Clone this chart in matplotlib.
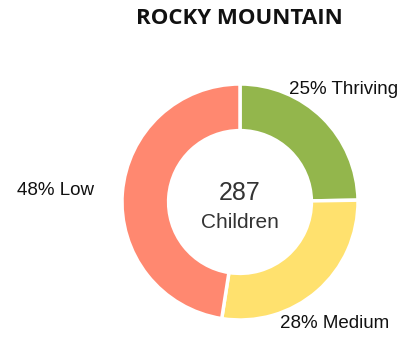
import numpy as np
import matplotlib.pyplot as plt

# share of children per wellbeing group
groups = ["Thriving", "Medium", "Low"]
shares = [25, 28, 48]
colors = ["#93B64C", "#FFE16E", "#FF8870"]
total_children = 287

fig = plt.figure(figsize=(4.04, 3.37), dpi=100)
ax = fig.add_axes([(240 - 118) / 404, (337 - 202 - 118) / 337, 236 / 404, 236 / 337])

ax.pie(shares, colors=colors, startangle=90, counterclock=False,
       radius=1.0, wedgeprops=dict(width=0.395, edgecolor="white", linewidth=2.5))
ax.set_xlim(-1, 1)
ax.set_ylim(-1, 1)
ax.set_aspect("equal")
ax.axis("off")

# outside labels
label_pos = {
    "Thriving": (0.415, 0.95, "left"),
    "Medium": (0.34, -1.03, "left"),
    "Low": (-1.24, 0.10, "right"),
}
for g, s in zip(groups, shares):
    x, y, ha = label_pos[g]
    ax.text(x, y, f"{s}% {g}", ha=ha, va="center", fontsize=13.5,
            family="Liberation Sans", color="#111111", clip_on=False)

ax.text(0, 0.08, str(total_children), ha="center", va="center", fontsize=18,
        family="Liberation Sans", color="#333333")
ax.text(0, -0.17, "Children", ha="center", va="center", fontsize=15,
        family="Liberation Sans", color="#333333")

fig.text(239 / 404, 1 - 19 / 337, "ROCKY MOUNTAIN", ha="center", va="center",
         fontsize=16, fontweight="bold", family="Open Sans", color="#111111")

fig.savefig("out.png", dpi=100)
